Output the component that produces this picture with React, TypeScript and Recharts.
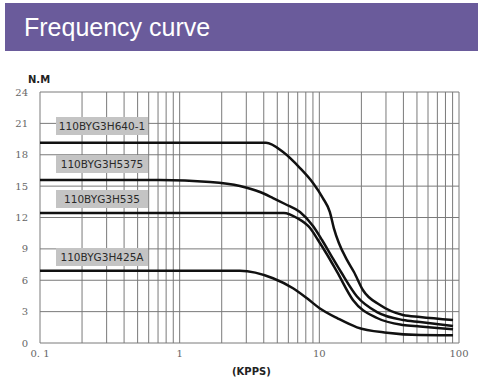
import React from "react"
import { LineChart, Line, XAxis, YAxis, CartesianGrid, ReferenceLine } from "recharts"

// torque (N.M) vs pulse rate (KPPS)
const freq640 = [0.1, 4.15, 5.5, 7.27, 9.01, 10.6, 11.9, 12.7, 13.8, 15.8, 17.7, 20.5, 27.2, 39.7, 52.6, 90.6]
const torque640 = [19.15, 19.15, 18.26, 16.73, 15.3, 13.86, 12.52, 10.99, 9.56, 7.93, 6.79, 5.07, 3.63, 2.68, 2.49, 2.2]

const freq5375 = [0.1, 0.72, 1.65, 2.7, 3.76, 4.66, 5.68, 7.27, 9.01, 10.45, 12.1, 14.3, 18.6, 25.9, 39.7, 52.6, 90.6]
const torque5375 = [15.58, 15.58, 15.39, 15.01, 14.44, 13.86, 13.29, 12.52, 11.19, 9.85, 8.41, 6.79, 4.45, 2.96, 2.2, 2.01, 1.63]

const freq535 = [0.1, 5.58, 6.92, 8.58, 9.78, 11.3, 13.4, 17.4, 25.9, 39.7, 52.6, 90.6]
const torque535 = [12.43, 12.43, 11.95, 10.99, 9.85, 8.51, 6.79, 4.11, 2.39, 1.72, 1.58, 1.31]

const freq425 = [0.1, 2.7, 4.66, 6.48, 8.16, 10.1, 13.6, 18.6, 30.5, 52.6, 90.6]
const torque425 = [6.91, 6.91, 6.19, 5.23, 4.27, 3.3, 2.34, 1.5, 0.98, 0.76, 0.74]

const seriesNames = ["110BYG3H640-1", "110BYG3H5375", "110BYG3H535", "110BYG3H425A"]
const yTicks = [0, 3, 6, 9, 12, 15, 18, 21, 24]
const xTicks = [0.1, 1, 10, 100]
const xTickLabels = ["0. 1", "1", "10", "100"]
const minorX = [
  0.2, 0.3, 0.4, 0.5, 0.6, 0.7, 0.8, 0.9,
  2, 3, 4, 5, 6, 7, 8, 9,
  20, 30, 40, 50, 60, 70, 80, 90,
]

const toPoints = (xs: number[], ys: number[]) => xs.map((x, i) => ({ x, y: ys[i] }))

const curves = [
  toPoints(freq640, torque640),
  toPoints(freq5375, torque5375),
  toPoints(freq535, torque535),
  toPoints(freq425, torque425),
]

// label boxes sit above each curve's flat part
const labelTops = [117, 155, 190, 248]

const gridColor = "#7a7a7a"
const tickStyle = { fontSize: 10, fill: "#666", fontFamily: "'DejaVu Serif', serif" }

export default function App() {
  return (
    <div style={{ position: "absolute", left: 0, top: 0, width: 486, height: 384, background: "#fff", overflow: "hidden" }}>
      <div
        style={{
          position: "absolute",
          left: 5,
          top: 3,
          width: 473,
          height: 48,
          background: "#6a5b9b",
          color: "#fff",
          fontFamily: "'Liberation Sans', Arial, sans-serif",
          fontSize: 25,
          lineHeight: "48px",
          paddingLeft: 19,
          boxSizing: "border-box",
        }}
      >
        Frequency curve
      </div>
      <div
        style={{
          position: "absolute",
          left: 28,
          top: 74,
          fontFamily: "'DejaVu Sans', sans-serif",
          fontWeight: "bold",
          fontSize: 10,
          color: "#222",
        }}
      >
        N.M
      </div>
      <div
        style={{
          position: "absolute",
          left: 232,
          top: 366,
          fontFamily: "'DejaVu Sans', sans-serif",
          fontWeight: "bold",
          fontSize: 10,
          color: "#222",
        }}
      >
        (KPPS)
      </div>
      <LineChart width={486} height={384} margin={{ top: 92, right: 27, bottom: 0, left: 0 }}>
        <CartesianGrid vertical={false} stroke={gridColor} strokeWidth={1} />
        <XAxis
          type="number"
          dataKey="x"
          scale="log"
          domain={[0.1, 100]}
          ticks={xTicks}
          allowDataOverflow
          height={41}
          axisLine={false}
          tickLine={false}
          tickSize={0}
          tickMargin={7}
          tick={tickStyle}
          tickFormatter={(v: number) => xTickLabels[xTicks.indexOf(v)] ?? String(v)}
        />
        <YAxis
          type="number"
          domain={[0, 24]}
          ticks={yTicks}
          width={40}
          axisLine={false}
          tickLine={false}
          tickSize={0}
          tickMargin={12}
          tick={tickStyle}
        />
        {minorX.concat(xTicks).map((v) => (
          <ReferenceLine key={v} x={v} stroke={gridColor} strokeWidth={1} />
        ))}
        {curves.map((pts, i) => (
          <Line
            key={seriesNames[i]}
            data={pts}
            dataKey="y"
            name={seriesNames[i]}
            type="monotone"
            stroke="#111"
            strokeWidth={2.5}
            dot={false}
            isAnimationActive={false}
          />
        ))}
      </LineChart>
      {seriesNames.map((name, i) => (
        <div
          key={name}
          style={{
            position: "absolute",
            left: 56,
            top: labelTops[i],
            width: 92,
            height: 18,
            background: "#c4c4c4",
            color: "#2a2a2a",
            fontFamily: "'DejaVu Sans', sans-serif",
            fontSize: 10.5,
            lineHeight: "18px",
            textAlign: "center",
          }}
        >
          {name}
        </div>
      ))}
    </div>
  )
}
